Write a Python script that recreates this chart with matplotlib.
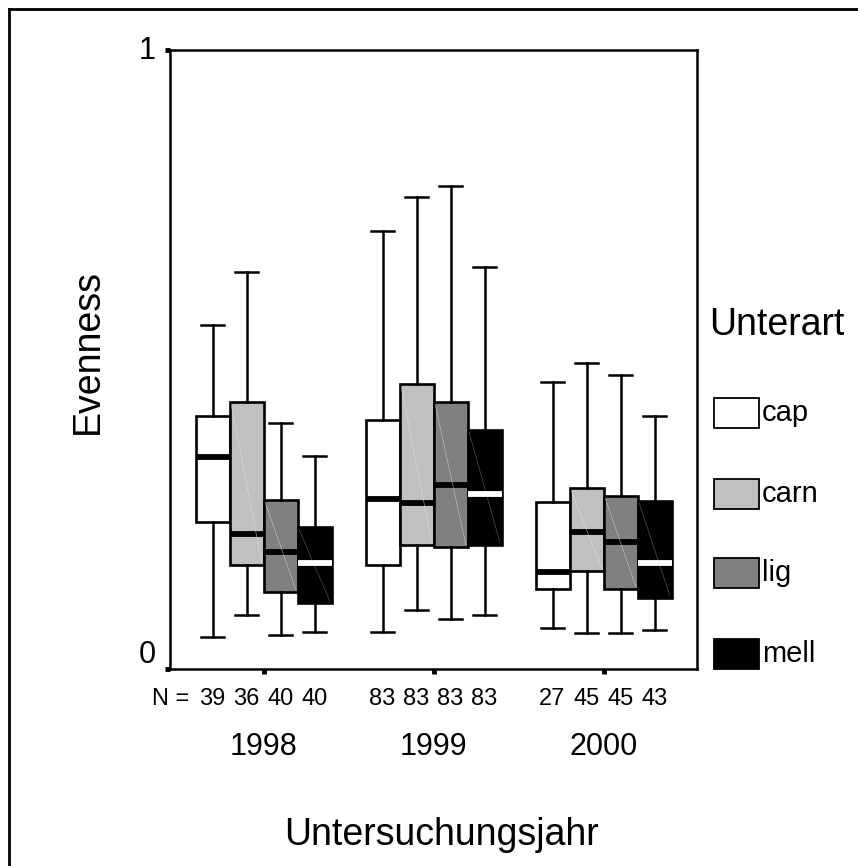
import matplotlib
matplotlib.use("Agg")
import matplotlib.pyplot as plt
import matplotlib.transforms as mtransforms
from matplotlib.lines import Line2D
from matplotlib.patches import Rectangle

# -----------------------------
# data
# -----------------------------
years = ["1998", "1999", "2000"]
subspecies = ["cap", "carn", "lig", "mell"]
colors = ["#ffffff", "#c0c0c0", "#808080", "#000000"]
median_colors = ["black", "black", "black", "white"]

# rows = subspecies, cols = years
whis_hi = [[0.555, 0.708, 0.463],
           [0.642, 0.763, 0.495],
           [0.398, 0.781, 0.475],
           [0.344, 0.649, 0.408]]
q3 = [[0.409, 0.402, 0.270],
      [0.431, 0.460, 0.292],
      [0.273, 0.431, 0.280],
      [0.229, 0.386, 0.272]]
med = [[0.342, 0.275, 0.156],
       [0.218, 0.268, 0.222],
       [0.189, 0.298, 0.205],
       [0.171, 0.283, 0.171]]
q1 = [[0.238, 0.168, 0.129],
      [0.168, 0.200, 0.158],
      [0.124, 0.197, 0.129],
      [0.106, 0.201, 0.115]]
whis_lo = [[0.051, 0.059, 0.067],
           [0.088, 0.095, 0.058],
           [0.055, 0.081, 0.058],
           [0.059, 0.088, 0.063]]

# group sizes, rows = years
n_counts = [[39, 36, 40, 40],
            [83, 83, 83, 83],
            [27, 45, 45, 43]]

offsets = [-0.3, -0.1, 0.1, 0.3]

# -----------------------------
# figure
# -----------------------------
W, H = 858, 866
plt.rcParams["font.family"] = ["Liberation Sans", "DejaVu Sans"]
fig = plt.figure(figsize=(W / 100, H / 100), dpi=100)
fig.patch.set_facecolor("white")

def fx(px):
    return px / W

def fy(py):
    return 1 - py / H

ax = fig.add_axes([fx(170), fy(669), fx(697 - 170), (669 - 50) / H])

for i, name in enumerate(subspecies):
    stats = []
    for j in range(len(years)):
        stats.append(dict(med=med[i][j], q1=q1[i][j], q3=q3[i][j],
                          whislo=whis_lo[i][j], whishi=whis_hi[i][j]))
    pos = [j + 1 + offsets[i] for j in range(len(years))]
    ax.bxp(stats, positions=pos, widths=0.2, capwidths=0.14,
           showfliers=False, patch_artist=True,
           boxprops=dict(facecolor=colors[i], edgecolor="black", linewidth=1.9),
           whiskerprops=dict(color="black", linewidth=1.8),
           capprops=dict(color="black", linewidth=1.8),
           medianprops=dict(color=median_colors[i], linewidth=4.2,
                            solid_capstyle="butt"))
    # faint diagonal shading line seen in the original boxes
    if i > 0:
        for j in range(len(years)):
            ax.plot([pos[j] - 0.09, pos[j] + 0.09],
                    [q3[i][j] - 0.004, q1[i][j] + 0.004],
                    color="#e6e6e6", lw=0.5, alpha=0.6 if i < 3 else 0.35,
                    zorder=2.5)

ax.set_xlim(0.45, 3.55)
ax.set_ylim(0, 1)
ax.set_xticks([1, 2, 3])
ax.set_xticklabels([])
ax.set_yticks([0, 1])
ax.set_yticklabels([])
ax.tick_params(length=3.5, width=3.5, direction="out", color="black")
for sp in ax.spines.values():
    sp.set_linewidth(1.8)
    sp.set_color("black")

# y tick labels (SPSS puts the 0 slightly above the axis)
fig.text(fx(147), fy(51), "1", fontsize=22, ha="center", va="center")
fig.text(fx(147), fy(655), "0", fontsize=22, ha="center", va="center")

# N = counts and year labels
tr = mtransforms.blended_transform_factory(ax.transData, fig.transFigure)
fig.text(fx(189), fy(699), "N =", fontsize=17, ha="right", va="center")
for j, yr in enumerate(years):
    for i in range(len(subspecies)):
        ax.text(j + 1 + offsets[i], fy(699), str(n_counts[j][i]), transform=tr,
                fontsize=17, ha="center", va="center")
    ax.text(j + 1, fy(747), yr, transform=tr, fontsize=22, ha="center", va="center")

fig.text(fx(441), fy(845), "Untersuchungsjahr", fontsize=27, ha="center", va="baseline")
fig.text(fx(88), fy(352), "Evenness", fontsize=27, ha="center", va="center", rotation=90)

# legend drawn by hand, SPSS style
fig.text(fx(777), fy(325), "Unterart", fontsize=27, ha="center", va="center")
leg_y = [413, 494, 573, 654]
for i, name in enumerate(subspecies):
    yc = leg_y[i]
    fig.add_artist(Rectangle((fx(714), fy(yc + 15)), fx(45), 30 / H,
                             transform=fig.transFigure, facecolor=colors[i],
                             edgecolor="black", linewidth=1.3))
    fig.text(fx(762), fy(yc), name, fontsize=21, ha="left", va="center")

# outer frame (only left and top edges are visible in the original)
fig.add_artist(Line2D([fx(9), fx(9)], [0, fy(9)], transform=fig.transFigure,
                      color="black", lw=2))
fig.add_artist(Line2D([fx(9), 1], [fy(9), fy(9)], transform=fig.transFigure,
                      color="black", lw=2))

fig.savefig("out.png", dpi=100, facecolor="white")
